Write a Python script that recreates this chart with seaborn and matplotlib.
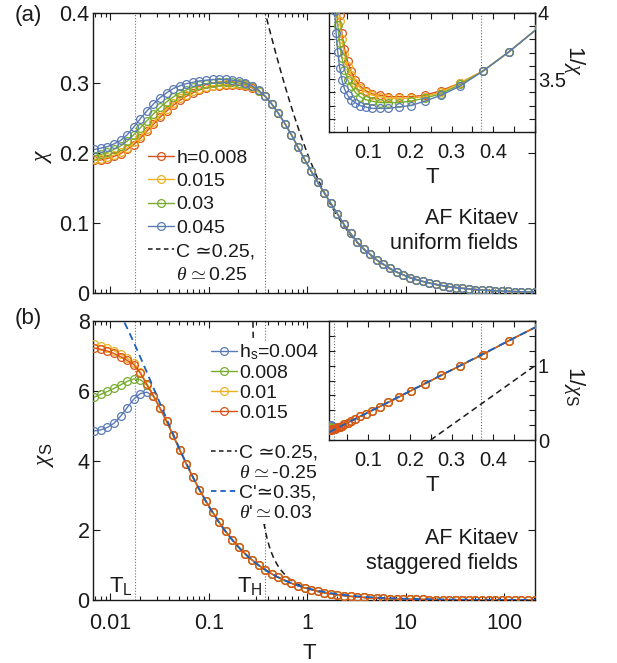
import numpy as np
import pandas as pd
import matplotlib
matplotlib.use("Agg")
import matplotlib.pyplot as plt
import seaborn as sns
from matplotlib.lines import Line2D
from matplotlib.ticker import FixedLocator, LogLocator, MultipleLocator, FuncFormatter, NullFormatter

# ---------------- data ----------------
T = np.logspace(-2.16, 2.3067, 68)          # temperature grid (log spaced, as in picture)
T_L, T_H = 0.018, 0.37

# panel (a): uniform fields; low-T part per field, shared high-T tail
h_labels = ["h=0.008", "0.015", "0.03", "0.045"]
chi_a_low = {
    "0.008": [0.190, 0.190, 0.192, 0.195, 0.199, 0.205, 0.212, 0.221, 0.231, 0.241, 0.251, 0.260, 0.268,
              0.275, 0.281, 0.286, 0.290, 0.293, 0.295, 0.296, 0.297, 0.297, 0.297, 0.296, 0.293, 0.288],
    "0.015": [0.191, 0.192, 0.194, 0.197, 0.201, 0.207, 0.215, 0.224, 0.234, 0.244, 0.254, 0.263, 0.271,
              0.278, 0.283, 0.288, 0.291, 0.294, 0.296, 0.297, 0.298, 0.298, 0.298, 0.297, 0.294, 0.288],
    "0.03":  [0.196, 0.198, 0.201, 0.205, 0.210, 0.217, 0.226, 0.236, 0.246, 0.256, 0.265, 0.273, 0.280,
              0.286, 0.290, 0.294, 0.297, 0.299, 0.300, 0.301, 0.301, 0.301, 0.300, 0.298, 0.295, 0.289],
    "0.045": [0.205, 0.207, 0.209, 0.213, 0.218, 0.226, 0.237, 0.249, 0.260, 0.270, 0.279, 0.286, 0.292,
              0.296, 0.299, 0.301, 0.303, 0.304, 0.305, 0.305, 0.305, 0.304, 0.303, 0.300, 0.296, 0.290],
}
chi_a_tail = [0.281, 0.270, 0.257, 0.242, 0.226, 0.208, 0.191, 0.174, 0.158, 0.143, 0.128, 0.113, 0.098,
              0.085, 0.073, 0.063, 0.055, 0.047, 0.041, 0.035, 0.030, 0.026, 0.022, 0.019, 0.0165, 0.0142,
              0.0122, 0.0105, 0.0090, 0.0078, 0.0067, 0.0057, 0.0049, 0.0042, 0.0036, 0.0031, 0.0027,
              0.0023, 0.0020, 0.0017, 0.0015, 0.0013]

# panel (b): staggered fields
hs_labels = [r"h$_\mathrm{s}$=0.004", "0.008", "0.01", "0.015"]
chi_b_low = {
    "0.004": [4.85, 4.88, 4.95, 5.07, 5.27, 5.52, 5.76, 5.92, 5.96, 5.84],
    "0.008": [5.82, 5.90, 5.98, 6.07, 6.17, 6.27, 6.34, 6.32, 6.16, 5.86],
    "0.01":  [7.33, 7.29, 7.23, 7.15, 7.05, 6.93, 6.79, 6.54, 6.20, 5.86],
    "0.015": [7.22, 7.19, 7.14, 7.07, 6.98, 6.87, 6.75, 6.50, 6.18, 5.85],
}
chi_b_tail = [5.50, 5.12, 4.72, 4.30, 3.90, 3.52, 3.16, 2.83, 2.52, 2.23, 1.97, 1.73, 1.51, 1.32, 1.15,
              1.00, 0.87, 0.75, 0.65, 0.56, 0.48, 0.41, 0.35, 0.30, 0.255, 0.21, 0.178, 0.150, 0.126,
              0.105, 0.088, 0.074, 0.062, 0.052, 0.044, 0.037, 0.032, 0.027, 0.023, 0.020, 0.017, 0.0145,
              0.0125, 0.0107, 0.0092, 0.0079, 0.0068, 0.0058, 0.0050, 0.0043, 0.0037, 0.0031, 0.0027,
              0.0023, 0.0020, 0.0017, 0.0015, 0.0012]

# Curie-Weiss fit parameters (chi = C / (T + theta))
C_a, th_a = 0.25, 0.25
C_b, th_b = 0.25, -0.25
C2_b, th2_b = 0.35, 0.03

RED, YEL, GRN, BLU = "#D95319", "#EDB120", "#77AC30", "#5A7AB5"
FITBLUE = "#1B5FC1"
col_a = {"0.008": RED, "0.015": YEL, "0.03": GRN, "0.045": BLU}
col_b = {"0.004": BLU, "0.008": GRN, "0.01": YEL, "0.015": RED}

rows = []
for h, low in chi_a_low.items():
    for t, v in zip(T, list(low) + chi_a_tail):
        rows.append(("a", h, t, v))
for h, low in chi_b_low.items():
    for t, v in zip(T, list(low) + chi_b_tail):
        rows.append(("b", h, t, v))
df = pd.DataFrame(rows, columns=["panel", "h", "T", "chi"])
df["inv"] = 1.0 / df["chi"]

# ---------------- style ----------------
sns.set_theme(style="ticks")
plt.rcParams["font.family"] = ["Liberation Sans", "DejaVu Sans"]
plt.rcParams["mathtext.fontset"] = "custom"
plt.rcParams["mathtext.rm"] = "Liberation Sans"
plt.rcParams["mathtext.it"] = "Liberation Serif:italic"
plt.rcParams["mathtext.sf"] = "Liberation Sans"
plt.rcParams["text.color"] = "#1a1a1a"
plt.rcParams["axes.labelcolor"] = "#1a1a1a"
plt.rcParams["xtick.color"] = "#1a1a1a"
plt.rcParams["ytick.color"] = "#1a1a1a"

fig = plt.figure(figsize=(6.17, 6.63), dpi=100)
axA = fig.add_axes([0.1507, 0.5581, 0.7164, 0.4223])
axB = fig.add_axes([0.1507, 0.0950, 0.7164, 0.4208])
insA = fig.add_axes([0.5332, 0.8009, 0.3339, 0.1795])
insB = fig.add_axes([0.5332, 0.3363, 0.3339, 0.1795])

fmt = FuncFormatter(lambda v, _: f"{v:g}")
MS, MEW, LW = 5.6, 0.9, 1.0
FS_TICK, FS_LAB, FS_LEG, FS_NOTE = 15.5, 16, 14, 15.5


def style_box(ax, lab=FS_TICK, L=5, Lm=3):
    ax.tick_params(which="both", direction="in", top=True, right=True, width=0.8,
                   labelsize=lab, pad=2.5)
    ax.tick_params(which="major", length=L)
    ax.tick_params(which="minor", length=Lm)
    for s in ax.spines.values():
        s.set_linewidth(1.0)
        s.set_color("#1a1a1a")
    ax.set_facecolor("white")


def draw_series(ax, panel, order, colors, ycol):
    for h in order:
        sub = df[(df.panel == panel) & (df.h == h)]
        c = colors[h]
        sns.lineplot(data=sub, x="T", y=ycol, ax=ax, color=c, lw=LW, marker="o",
                     markersize=MS, markerfacecolor="none", markeredgecolor=c,
                     markeredgewidth=MEW, legend=False, errorbar=None, zorder=3)


Tfit = np.logspace(np.log10(0.006), np.log10(210), 600)
Tfit_b = np.logspace(np.log10(0.2505), np.log10(210), 800)
dot = dict(color="#707070", ls=(0, (1, 1.6)), lw=0.8, zorder=1)
SIM = "\u2243"

# ---------- panel (a) ----------
axA.set_xscale("log")
axA.plot(Tfit, C_a / (Tfit + th_a), color="k", ls="--", dashes=(4, 2.6), lw=1.1, zorder=2)
draw_series(axA, "a", ["0.008", "0.015", "0.03", "0.045"], col_a, "chi")
axA.axvline(T_L, **dot)
axA.axvline(T_H, **dot)
axA.set_xlim(0.0067, 205)
axA.set_ylim(0, 0.4)
axA.yaxis.set_major_locator(FixedLocator([0, 0.1, 0.2, 0.3, 0.4]))
axA.yaxis.set_major_formatter(fmt)
axA.xaxis.set_major_locator(LogLocator(base=10, numticks=12))
axA.xaxis.set_minor_locator(LogLocator(base=10, subs=np.arange(2, 10), numticks=100))
axA.xaxis.set_major_formatter(NullFormatter())
axA.xaxis.set_minor_formatter(NullFormatter())
style_box(axA)
axA.set_xlabel("")
axA.set_ylabel(r"$\chi$", fontsize=FS_LAB + 1, rotation=90, va="center")
axA.yaxis.set_label_coords(-0.113, 0.49)

hA = [Line2D([], [], color=col_a[h], lw=LW, marker="o", ms=MS, mfc="none", mec=col_a[h], mew=MEW)
      for h in ["0.008", "0.015", "0.03", "0.045"]]
hA += [Line2D([], [], color="k", ls="--", dashes=(3, 2.2), lw=1.1), Line2D([], [], color="none")]
lA = h_labels + ["C " + SIM + "0.25,", r"$\theta\,\simeq$0.25"]
legA = axA.legend(hA, lA, loc="upper left", bbox_to_anchor=(0.118, 0.525), fontsize=FS_LEG,
                  frameon=True, facecolor="white", edgecolor="none", framealpha=1, fancybox=False,
                  borderpad=0.15, labelspacing=0.3, handlelength=1.35, handletextpad=0.1,
                  borderaxespad=0)
axA.text(0.962, 0.222, "AF Kitaev\nuniform fields", transform=axA.transAxes, ha="right",
         va="center", multialignment="right", fontsize=FS_NOTE, linespacing=1.25)

# ---------- panel (b) ----------
axB.set_xscale("log")
axB.plot(Tfit_b, C_b / (Tfit_b + th_b), color="k", ls="--", dashes=(4, 2.6), lw=1.1, zorder=2)
draw_series(axB, "b", ["0.004", "0.008", "0.01", "0.015"], col_b, "chi")
axB.plot(Tfit, C2_b / (Tfit + th2_b), color=FITBLUE, ls="--", dashes=(4, 2.6), lw=1.3, zorder=4)
axB.axvline(T_L, **dot)
axB.axvline(T_H, **dot)
axB.set_xlim(0.0067, 205)
axB.set_ylim(0, 8)
axB.yaxis.set_major_locator(FixedLocator([0, 2, 4, 6, 8]))
axB.yaxis.set_major_formatter(fmt)
axB.xaxis.set_major_locator(LogLocator(base=10, numticks=12))
axB.xaxis.set_minor_locator(LogLocator(base=10, subs=np.arange(2, 10), numticks=100))
axB.xaxis.set_major_formatter(fmt)
axB.xaxis.set_minor_formatter(NullFormatter())
style_box(axB)
axB.tick_params(axis="x", pad=9)
axB.set_xlabel("T", fontsize=FS_LAB, va="center")
axB.xaxis.set_label_coords(0.49, -0.19)
axB.set_ylabel(r"$\chi_\mathrm{S}$", fontsize=FS_LAB + 1, rotation=90, va="center")
axB.yaxis.set_label_coords(-0.108, 0.52)

hB = [Line2D([], [], color=col_b[h], lw=LW, marker="o", ms=MS, mfc="none", mec=col_b[h], mew=MEW)
      for h in ["0.004", "0.008", "0.01", "0.015"]]
hB += [Line2D([], [], color="none"),
       Line2D([], [], color="k", ls="--", dashes=(3, 2.2), lw=1.1), Line2D([], [], color="none"),
       Line2D([], [], color=FITBLUE, ls="--", dashes=(3, 2.2), lw=1.3), Line2D([], [], color="none")]
lB = hs_labels + [" ", "C " + SIM + "0.25,", r"$\theta\,\simeq$-0.25", "C'" + SIM + "0.35,",
                  r"$\theta$'$\simeq$0.03"]
legB = axB.legend(hB, lB, loc="upper left", bbox_to_anchor=(0.262, 0.93), fontsize=FS_LEG,
                  frameon=True, facecolor="white", edgecolor="none", framealpha=1, fancybox=False,
                  borderpad=0.1, labelspacing=0.12, handlelength=1.35, handletextpad=0.1,
                  borderaxespad=0)
legB.set_zorder(2.5)
axB.text(0.962, 0.177, "AF Kitaev\nstaggered fields", transform=axB.transAxes, ha="right",
         va="center", multialignment="right", fontsize=FS_NOTE, linespacing=1.25)
axB.text(T_L * 0.95, 0.012, r"T$_\mathrm{L}$", transform=axB.get_xaxis_transform(), ha="right",
         va="bottom", fontsize=FS_LAB)
axB.text(T_H * 0.95, 0.012, r"T$_\mathrm{H}$", transform=axB.get_xaxis_transform(), ha="right",
         va="bottom", fontsize=FS_LAB)

# ---------- insets ----------
def style_inset(ax, ylo, yhi, ymaj, ymin_step, ylab, ylab_y):
    ax.set_xlim(0.0065, 0.5)
    ax.set_ylim(ylo, yhi)
    ax.xaxis.set_major_locator(FixedLocator([0.1, 0.2, 0.3, 0.4]))
    ax.xaxis.set_minor_locator(MultipleLocator(0.05))
    ax.xaxis.set_major_formatter(fmt)
    ax.yaxis.set_major_locator(FixedLocator(ymaj))
    ax.yaxis.set_minor_locator(MultipleLocator(ymin_step))
    ax.yaxis.set_major_formatter(fmt)
    style_box(ax, lab=14.5, L=4, Lm=4)
    ax.tick_params(which="both", labelleft=False, labelright=True)
    ax.tick_params(axis="y", pad=2)
    ax.tick_params(axis="x", pad=8)
    ax.set_xlabel("T", fontsize=FS_LAB, va="center")
    ax.xaxis.set_label_coords(0.5, -0.38)
    ax.yaxis.set_label_position("right")
    ax.set_ylabel(ylab, fontsize=FS_LAB, rotation=-90, va="center", ha="center")
    ax.yaxis.set_label_coords(1.19, ylab_y)
    ax.axvline(T_L, **dot)
    ax.axvline(T_H, **dot)


draw_series(insA, "a", ["0.008", "0.015", "0.03", "0.045"], col_a, "inv")
style_inset(insA, 3.1, 4.0, [3.5, 4.0], 0.1, r"1/$\chi$", 0.6)

Tin = np.linspace(0.0065, 0.5, 200)
draw_series(insB, "b", ["0.004", "0.008", "0.01", "0.015"], col_b, "inv")
Tin_b = np.linspace(0.25, 0.5, 50)
insB.plot(Tin_b, (Tin_b + th_b) / C_b, color="k", ls="--", dashes=(4, 2.6), lw=1.1, zorder=2)
insB.plot(Tin, (Tin + th2_b) / C2_b, color=FITBLUE, ls="--", dashes=(4, 2.6), lw=1.3, zorder=4)
style_inset(insB, 0, 1.6, [0, 1], 0.2, r"1/$\chi_\mathrm{S}$", 0.45)

fig.text(28 / 617, 1 - 16 / 663, "(a)", ha="center", va="center", fontsize=16)
fig.text(28 / 617, 1 - 318 / 663, "(b)", ha="center", va="center", fontsize=16)

fig.savefig("out.png", dpi=100)
